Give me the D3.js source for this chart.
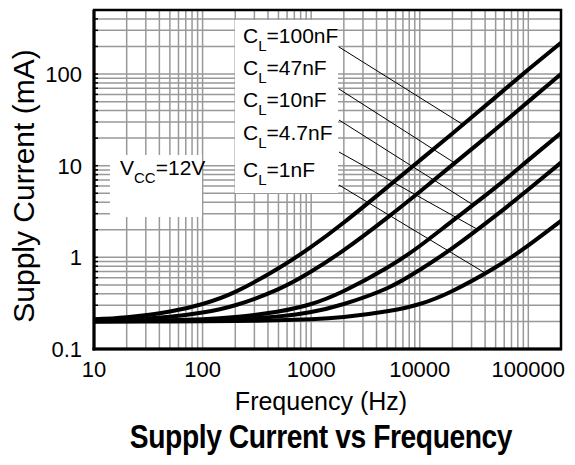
<!DOCTYPE html>
<html><head><meta charset="utf-8">
<script src="https://cdn.jsdelivr.net/npm/d3@7"></script>
<style>body{margin:0;background:#fff}svg{display:block}</style>
</head><body><svg id="c" width="575" height="465"></svg>
<script>
// ---- data ----
const frequencies = [10, 20, 50, 100, 200, 500, 1000, 2000, 5000, 10000, 20000, 50000, 100000, 200000];
const seriesNames = ["100nF", "47nF", "10nF", "4.7nF", "1nF"];
const current100nF = [0.211, 0.222, 0.256, 0.31, 0.42, 0.76, 1.3, 2.4, 5.8, 11.4, 22.5, 56, 112, 220];
const current47nF  = [0.205, 0.21, 0.225, 0.25, 0.30, 0.45, 0.70, 1.2, 2.7, 5.2, 10.2, 25, 50, 100];
const current10nF  = [0.201, 0.202, 0.206, 0.211, 0.223, 0.257, 0.31, 0.43, 0.77, 1.33, 2.5, 5.8, 11.5, 22.8];
const current4_7nF = [0.200, 0.201, 0.203, 0.205, 0.211, 0.227, 0.253, 0.31, 0.46, 0.73, 1.26, 2.85, 5.5, 10.8];
const current1nF   = [0.200, 0.200, 0.200, 0.201, 0.202, 0.206, 0.211, 0.223, 0.258, 0.31, 0.43, 0.78, 1.35, 2.5];
const xTickValues = [10, 100, 1000, 10000, 100000];
const xTickLabels = ["10", "100", "1000", "10000", "100000"];
const yTickValues = [0.1, 1, 10, 100];
const yTickLabels = ["0.1", "1", "10", "100"];
const leaderFreqs = [25000, 21000, 31000, 34000, 40000];
const vccLabel = "12V";

const allSeries = [current100nF, current47nF, current10nF, current4_7nF, current1nF];

// ---- layout ----
const svg = d3.select("#c");
const L = 94, R = 561, T = 10, B = 349;
const x = d3.scaleLog().domain([10, 200000]).range([L, R]);
const y = d3.scaleLog().domain([0.1, 500]).range([B, T]);
const FONT = "'Liberation Sans', Arial, Helvetica, sans-serif";

function gridVals(lo, hi) {
  const out = [];
  for (let d = lo; d < hi * 1.0001; d *= 10) {
    for (let m = 1; m <= 9; m++) { const v = d * m; if (v >= lo * 0.9999 && v <= hi * 1.0001) out.push(v); }
  }
  return out;
}
const xg = gridVals(10, 200000);
const yg = gridVals(0.1, 500);

const grid = svg.append("g").attr("stroke", "#999").attr("stroke-width", 1.5);
grid.selectAll("line.v").data(xg).join("line").attr("class", "v")
  .attr("x1", d => x(d)).attr("x2", d => x(d)).attr("y1", T).attr("y2", B);
grid.selectAll("line.h").data(yg).join("line").attr("class", "h")
  .attr("x1", L).attr("x2", R).attr("y1", d => y(d)).attr("y2", d => y(d));

svg.append("g").attr("stroke", "#000").attr("stroke-width", 1.5)
  .selectAll("line").data(yg).join("line")
  .attr("x1", L).attr("x2", L + 4).attr("y1", d => y(d)).attr("y2", d => y(d));

// white label boxes
svg.append("rect").attr("x", 110).attr("y", 155).attr("width", 92).attr("height", 62).attr("fill", "#fff");
svg.append("rect").attr("x", 235).attr("y", 20).attr("width", 103).attr("height", 173).attr("fill", "#fff");

// curves
const line = d3.line().x(d => x(d[0])).y(d => y(d[1])).curve(d3.curveNatural);
svg.append("g").selectAll("path").data(allSeries).join("path")
  .attr("d", s => line(frequencies.map((f, i) => [f, s[i]])))
  .attr("fill", "none").attr("stroke", "#000").attr("stroke-width", 4).attr("stroke-linejoin", "round");

// leader lines
function valueAt(s, f) {
  const lf = Math.log10(f);
  for (let i = 0; i < frequencies.length - 1; i++) {
    const a = Math.log10(frequencies[i]), b = Math.log10(frequencies[i + 1]);
    if (lf >= a && lf <= b) {
      const t = (lf - a) / (b - a);
      return Math.pow(10, Math.log10(s[i]) * (1 - t) + Math.log10(s[i + 1]) * t);
    }
  }
  return s[s.length - 1];
}
const leaderStartY = [47, 89, 120, 152, 185];
svg.append("g").attr("stroke", "#000").attr("stroke-width", 1)
  .selectAll("line").data(seriesNames).join("line")
  .attr("x1", 339).attr("y1", (d, i) => leaderStartY[i])
  .attr("x2", (d, i) => x(leaderFreqs[i])).attr("y2", (d, i) => y(valueAt(allSeries[i], leaderFreqs[i])));

// frame
svg.append("rect").attr("x", L).attr("y", T).attr("width", R - L).attr("height", B - T)
  .attr("fill", "none").attr("stroke", "#000").attr("stroke-width", 2.5);
svg.append("line").attr("x1", L).attr("x2", L).attr("y1", T).attr("y2", B + 1.5).attr("stroke", "#000").attr("stroke-width", 3);
svg.append("line").attr("x1", L - 1.5).attr("x2", R + 1).attr("y1", B).attr("y2", B).attr("stroke", "#000").attr("stroke-width", 3);

// tick labels
svg.append("g").selectAll("text").data(xTickValues).join("text")
  .attr("x", d => x(d)).attr("y", 377).attr("text-anchor", "middle")
  .attr("font-family", FONT).attr("font-size", 22).text((d, i) => xTickLabels[i]);
svg.append("g").selectAll("text").data(yTickValues).join("text")
  .attr("x", 82).attr("y", d => y(d) + 8).attr("text-anchor", "end")
  .attr("font-family", FONT).attr("font-size", 22).text((d, i) => yTickLabels[i]);

// axis titles
svg.append("text").attr("x", 321).attr("y", 410).attr("text-anchor", "middle")
  .attr("font-family", FONT).attr("font-size", 25).text("Frequency (Hz)");
svg.append("text").attr("transform", "translate(34,186) rotate(-90)").attr("text-anchor", "middle")
  .attr("font-family", FONT).attr("font-size", 30).text("Supply Current (mA)");

// chart title (condensed bold)
svg.append("text").attr("transform", "translate(321,448) scale(0.83,1)").attr("text-anchor", "middle")
  .attr("font-family", FONT).attr("font-weight", "bold")
  .attr("font-size", 34).attr("letter-spacing", -0.5)
  .text("Supply Current vs Frequency");

// VCC label
const vt = svg.append("text").attr("x", 120).attr("y", 175).attr("font-family", FONT).attr("font-size", 21);
vt.append("tspan").text("V");
vt.append("tspan").attr("font-size", 15).attr("dy", 8).text("CC");
vt.append("tspan").attr("dy", -8).text("=" + vccLabel);

// CL labels
const clBase = [43, 75, 107, 140, 177];
seriesNames.forEach((n, i) => {
  const t = svg.append("text").attr("x", 243).attr("y", clBase[i]).attr("font-family", FONT).attr("font-size", 21);
  t.append("tspan").text("C");
  t.append("tspan").attr("font-size", 15).attr("dy", 8).text("L");
  t.append("tspan").attr("dy", -8).text("=" + n);
});
</script></body></html>
